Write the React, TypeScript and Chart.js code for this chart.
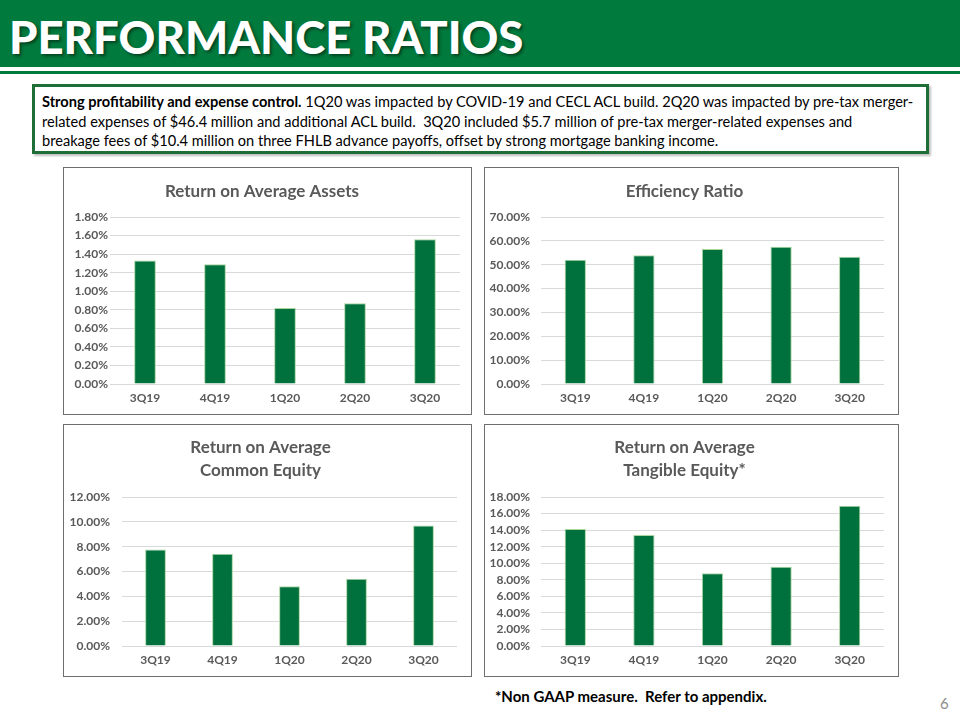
import React, { useEffect, useRef } from "react";
import { Chart, registerables } from "chart.js";

Chart.register(...registerables);

const quarters = ["3Q19", "4Q19", "1Q20", "2Q20", "3Q20"];
const roaaValues = [1.33, 1.29, 0.82, 0.87, 1.56];
const efficiencyValues = [52.1, 54.0, 56.6, 57.5, 53.3];
const roaceValues = [7.77, 7.42, 4.82, 5.41, 9.7];
const roateValues = [14.14, 13.42, 8.8, 9.56, 16.95];

const GREEN = "#00703c";
const FONT = "Lato, 'Open Sans', sans-serif";

type PanelProps = {
  title: string | string[];
  values: number[];
  max: number;
  step: number;
  labelGap: number;
  titleTop: number;
  box: { x: number; y: number; w: number; h: number };
  plot: { left: number; right: number; top: number; bottom: number };
};

function Panel({ title, values, max, step, labelGap, titleTop, box, plot }: PanelProps) {
  const ref = useRef<HTMLCanvasElement | null>(null);
  useEffect(() => {
    if (!ref.current) return;
    const cw = box.w - 2;
    const ch = box.h - 2;
    const cx = box.x + 1;
    const cy = box.y + 1;
    const yWidth = plot.left - cx;
    const padRight = cx + cw - plot.right;
    const xHeight = cy + ch - plot.bottom;
    const lines = Array.isArray(title) ? title.length : 1;
    const lh = 22.6;
    const titleBottom = plot.top - cy - titleTop - lines * lh;
    const chart = new Chart(ref.current, {
      type: "bar",
      data: {
        labels: quarters,
        datasets: [
          {
            data: values,
            backgroundColor: GREEN,
            borderColor: "#a8d5a0",
            borderWidth: 1,
            barPercentage: 0.62,
            categoryPercentage: 0.5,
          },
        ],
      },
      options: {
        animation: false,
        responsive: false,
        maintainAspectRatio: false,
        layout: { padding: { left: 0, right: padRight, top: 0, bottom: 0 } },
        plugins: {
          legend: { display: false },
          tooltip: { enabled: false },
          title: {
            display: true,
            text: title,
            color: "#595959",
            font: { family: FONT, size: 17, weight: "bold", lineHeight: lh / 17 },
            padding: { top: titleTop, bottom: titleBottom },
          },
        },
        scales: {
          x: {
            grid: { display: false, drawTicks: false },
            border: { display: false },
            ticks: {
              color: "#595959",
              font: { family: FONT, size: 12, weight: "bold" },
              padding: 7,
            },
            afterFit: (s: any) => {
              s.height = xHeight;
            },
          },
          y: {
            min: 0,
            max: max,
            ticks: {
              stepSize: step,
              autoSkip: false,
              color: "#595959",
              font: { family: FONT, size: 12, weight: "bold", lineHeight: 1 },
              padding: labelGap,
              callback: (v: any) => Number(v).toFixed(2) + "%",
            },
            grid: { color: "#d9d9d9", drawTicks: false, lineWidth: 1 },
            border: { display: false },
            afterFit: (s: any) => {
              s.width = yWidth;
            },
          },
        },
      },
    });
    return () => chart.destroy();
  }, []);
  return (
    <div
      style={{
        position: "absolute",
        left: box.x,
        top: box.y,
        width: box.w,
        height: box.h,
        boxSizing: "border-box",
        border: "1px solid #6f6f6f",
        background: "#fff",
      }}
    >
      <canvas ref={ref} width={box.w - 2} height={box.h - 2} style={{ display: "block" }} />
    </div>
  );
}

export default function App() {
  return (
    <div
      style={{
        position: "absolute",
        left: 0,
        top: 0,
        width: 960,
        height: 720,
        background: "#fff",
        overflow: "hidden",
        fontFamily: FONT,
      }}
    >
      <div style={{ position: "absolute", left: 0, top: 0, width: 960, height: 67, background: "#007a3d" }} />
      <div style={{ position: "absolute", left: 0, top: 71, width: 960, height: 3, background: "#007a3d" }} />
      <div
        style={{
          position: "absolute",
          left: 9,
          top: 15,
          color: "#fff",
          fontWeight: 900,
          fontSize: 45,
          lineHeight: "45px",
          whiteSpace: "nowrap",
          textShadow: "2px 2px 3px rgba(0,0,0,0.45)",
          transformOrigin: "0 0",
          transform: "scaleX(1.01)",
        }}
      >
        PERFORMANCE RATIOS
      </div>
      <div
        style={{
          position: "absolute",
          left: 32,
          top: 84,
          width: 897,
          height: 70,
          boxSizing: "border-box",
          border: "3px solid #1f6e38",
          boxShadow: "2px 2px 2px rgba(0,0,0,0.25)",
          background: "#fff",
        }}
      />
      <div
        style={{
          position: "absolute",
          left: 42,
          top: 92,
          width: 900,
          fontSize: 14.6,
          lineHeight: "19.5px",
          color: "#000",
          whiteSpace: "nowrap",
        }}
      >
        <b>Strong profitability and expense control.</b> 1Q20 was impacted by COVID-19 and CECL ACL build. 2Q20 was impacted by pre-tax merger-
        <br />
        related expenses of $46.4 million and additional ACL build.&nbsp; 3Q20 included $5.7 million of pre-tax merger-related expenses and
        <br />
        breakage fees of $10.4 million on three FHLB advance payoffs, offset by strong mortgage banking income.
      </div>

      <Panel
        title="Return on Average Assets"
        values={roaaValues}
        max={1.8}
        step={0.2}
        labelGap={2}
        titleTop={12.4}
        box={{ x: 63, y: 167, w: 409, h: 248 }}
        plot={{ left: 110, right: 460, top: 217, bottom: 384 }}
      />
      <Panel
        title="Efficiency Ratio"
        values={efficiencyValues}
        max={70}
        step={10}
        labelGap={11}
        titleTop={12.4}
        box={{ x: 484, y: 167, w: 415, h: 248 }}
        plot={{ left: 541, right: 884, top: 217, bottom: 384 }}
      />
      <Panel
        title={["Return on Average", "Common Equity"]}
        values={roaceValues}
        max={12}
        step={2}
        labelGap={12}
        titleTop={11.6}
        box={{ x: 63, y: 424, w: 409, h: 253 }}
        plot={{ left: 122, right: 457, top: 497, bottom: 646 }}
      />
      <Panel
        title={["Return on Average", "Tangible Equity*"]}
        values={roateValues}
        max={18}
        step={2}
        labelGap={11}
        titleTop={11.6}
        box={{ x: 484, y: 424, w: 415, h: 253 }}
        plot={{ left: 541, right: 884, top: 497, bottom: 646 }}
      />

      <div
        style={{
          position: "absolute",
          left: 495,
          top: 687,
          fontSize: 15,
          fontWeight: 700,
          color: "#000",
          whiteSpace: "pre",
        }}
      >
        {"*Non GAAP measure.  Refer to appendix."}
      </div>
      <div style={{ position: "absolute", left: 940, top: 694, fontSize: 15, color: "#8c8c8c" }}>6</div>
    </div>
  );
}
